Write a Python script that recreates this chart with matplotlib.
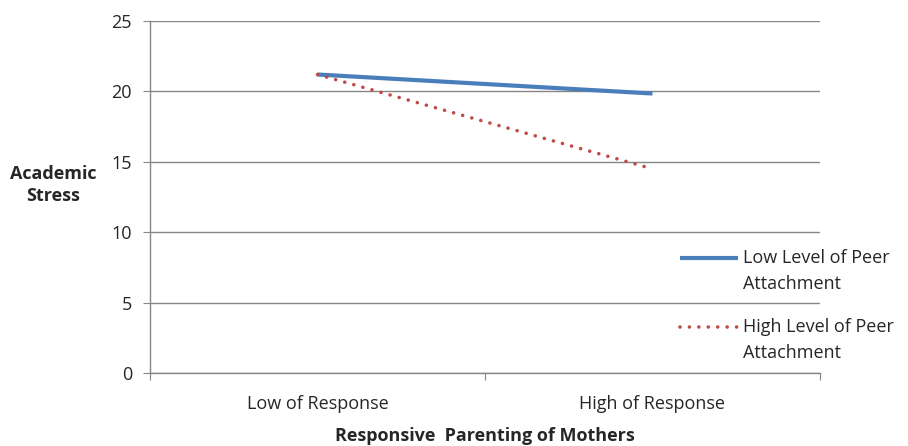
import matplotlib.pyplot as plt
from matplotlib.lines import Line2D

categories = ['Low of Response', 'High of Response']
low_peer = [21.2, 19.85]
high_peer = [21.2, 14.5]
series_labels = [('Low Level of Peer', 'Attachment'), ('High Level of Peer', 'Attachment')]
y_ticks = [0, 5, 10, 15, 20, 25]

plt.rcParams['font.family'] = ['Open Sans', 'DejaVu Sans']
txt = '#262626'
grid_c = '#868686'
fs = 13

fig = plt.figure(figsize=(9.08, 4.46), dpi=100)
ax = fig.add_axes([150 / 908, 1 - 373 / 446, 670 / 908, 352 / 446])

blue_style = dict(color='#4A7EBB', lw=3, solid_capstyle='butt')
red_style = dict(color='#BE4B48', lw=2.6, linestyle=(0, (0.01, 2.6)), dash_capstyle='round')

x = [0.5, 1.5]
ax.plot(x, low_peer, **blue_style)
ax.plot(x, high_peer, **red_style)

ax.set_xlim(0, 2)
ax.set_ylim(0, 25)
ax.set_yticks(y_ticks)
ax.set_xticks([0, 1, 2])
ax.set_xticklabels([])
ax.set_xticks(x, minor=True)
ax.set_xticklabels(categories, minor=True)
ax.tick_params(axis='x', which='minor', length=0, pad=16, labelsize=fs, colors=txt)
ax.tick_params(axis='x', which='major', length=5, color=grid_c, direction='out')
ax.tick_params(axis='y', length=5, color=grid_c, labelsize=fs, labelcolor=txt, pad=8)

ax.grid(axis='y', color=grid_c, lw=1)
ax.set_axisbelow(True)
for side in ['top', 'right']:
    ax.spines[side].set_visible(False)
for side in ['left', 'bottom']:
    ax.spines[side].set_color(grid_c)
    ax.spines[side].set_linewidth(1)

fig.text(53 / 908, 1 - 185 / 446, 'Academic\nStress', ha='center', va='center',
         fontsize=fs, fontweight='bold', color=txt, linespacing=1.35)
fig.text(485 / 908, 1 - 436 / 446, 'Responsive  Parenting of Mothers', ha='center',
         va='center', fontsize=fs, fontweight='bold', color=txt)

# legend, drawn by hand so the key sits on the first text line
for (line1, line2), style, y0 in zip(series_labels, [blue_style, red_style], [258, 327]):
    fig.add_artist(Line2D([680 / 908, 738 / 908], [1 - y0 / 446] * 2,
                          transform=fig.transFigure, **style))
    fig.text(743 / 908, 1 - y0 / 446, line1, va='center', ha='left', fontsize=fs, color=txt)
    fig.text(743 / 908, 1 - (y0 + 26) / 446, line2, va='center', ha='left', fontsize=fs, color=txt)

fig.savefig('out.png', dpi=100)
